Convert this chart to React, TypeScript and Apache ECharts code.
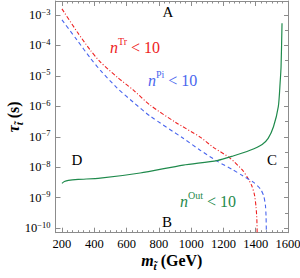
import React, { useEffect, useRef } from "react";
import * as echarts from "echarts";

// ---- data (stop mass in GeV, log10 of lifetime in s) ----
const massTr = [200, 295, 375, 437, 542, 641, 746, 902, 1056, 1136, 1241, 1322, 1350, 1375, 1392, 1402, 1407, 1409];
const logTauTr = [-2.8, -3.56, -4.15, -4.54, -5.04, -5.46, -5.96, -6.52, -7.01, -7.34, -7.7, -8.12, -8.35, -8.6, -8.9, -9.3, -9.7, -10.15];

const massPi = [200, 293, 375, 437, 542, 641, 746, 951, 1056, 1161, 1260, 1320, 1385, 1430, 1450, 1460, 1464, 1466];
const logTauPi = [-3.16, -3.82, -4.41, -4.81, -5.4, -5.86, -6.32, -7.05, -7.44, -7.8, -8.09, -8.28, -8.49, -8.72, -8.95, -9.25, -9.6, -10.15];

const massOut = [200, 215, 240, 300, 437, 684, 951, 1161, 1260, 1365, 1440, 1477, 1510, 1540, 1551, 1557, 1563];
const logTauOut = [-8.53, -8.47, -8.43, -8.4, -8.36, -8.19, -7.93, -7.78, -7.63, -7.44, -7.25, -7.05, -6.67, -6.01, -5.24, -4.7, -3.27];

const xMajorTicks = [200, 400, 600, 800, 1000, 1200, 1400, 1600];
const xMinorTicks: number[] = [];
for (let i = 0; i < 7; i++) for (let j = 1; j < 6; j++) xMinorTicks.push(200 + i * 200 + (j * 200) / 6);
const yMajorTicks = [-10, -9, -8, -7, -6, -5, -4, -3];
const yMinorTicks = [-9.5, -8.5, -7.5, -6.5, -5.5, -4.5, -3.5];

const FONT = "Liberation Serif";
const AXIS_COLOR = "#8c8c8c";
const RED = "#ee2222";
const BLUE = "#4a66ee";
const GREEN = "#1f8a4c";

const X_MIN = 160;
const X_MAX = 1600;
const Y_MIN = -10.15;
const Y_MAX = -2.54;

function zip(xs: number[], ys: number[]) {
  return xs.map((x, i) => [x, ys[i]]);
}

function xAx(position: string, ticks: number[], len: number, extra: any = {}) {
  return {
    type: "value",
    min: X_MIN,
    max: X_MAX,
    position,
    gridIndex: 0,
    axisLine: { show: true, lineStyle: { color: AXIS_COLOR, width: 1 } },
    axisTick: { show: true, inside: true, length: len, customValues: ticks, lineStyle: { color: AXIS_COLOR } },
    axisLabel: { show: false },
    splitLine: { show: false },
    ...extra,
  };
}
function yAx(position: string, ticks: number[], len: number, extra: any = {}) {
  return {
    type: "value",
    min: Y_MIN,
    max: Y_MAX,
    position,
    gridIndex: 0,
    axisLine: { show: true, lineStyle: { color: AXIS_COLOR, width: 1 } },
    axisTick: { show: true, inside: true, length: len, customValues: ticks, lineStyle: { color: AXIS_COLOR } },
    axisLabel: { show: false },
    splitLine: { show: false },
    ...extra,
  };
}

function supText(base: string, sup: string, tail: string, color: string, x: number, y: number) {
  return {
    type: "text",
    x,
    y,
    style: {
      text: `{n|${base}}{s|${sup}}{b|${tail}}`,
      align: "left",
      verticalAlign: "middle",
      fill: color,
      rich: {
        n: { fontFamily: FONT, fontStyle: "italic", fontSize: 16, lineHeight: 22, fill: color },
        s: { fontFamily: FONT, fontSize: 10, lineHeight: 22, verticalAlign: "top", fill: color },
        b: { fontFamily: FONT, fontSize: 16, lineHeight: 22, fill: color },
      },
    },
  };
}
function letter(t: string, x: number, y: number) {
  return {
    type: "text",
    x,
    y,
    style: { text: t, fontFamily: FONT, fontSize: 15, fill: "#000", align: "center", verticalAlign: "middle" },
  };
}

export default function App() {
  const ref = useRef<HTMLDivElement>(null);
  useEffect(() => {
    if (!ref.current) return;
    const chart = echarts.init(ref.current, null, { renderer: "svg" });
    chart.setOption({
      animation: false,
      backgroundColor: "#fff",
      grid: { left: 55.5, right: 12, top: 1, bottom: 45.3, containLabel: false, outerBoundsMode: "none" },
      xAxis: [
        xAx("bottom", xMajorTicks, 5, {
          axisLabel: {
            show: true,
            customValues: xMajorTicks,
            formatter: (v: number) => String(Math.round(v)),
            fontFamily: FONT,
            fontSize: 12.5,
            color: "#000",
            margin: 5,
          },
          name: "{m|m}{s|t̃}{b| (GeV)}",
          nameLocation: "middle",
          nameGap: 17,
          nameMoveOverlap: false,
          nameTextStyle: {
            rich: {
              m: { fontFamily: FONT, fontStyle: "italic", fontWeight: "bold", fontSize: 16, lineHeight: 22, color: "#000" },
              s: { fontFamily: FONT, fontStyle: "italic", fontWeight: "bold", fontSize: 11, lineHeight: 22, verticalAlign: "bottom", color: "#000" },
              b: { fontFamily: FONT, fontWeight: "bold", fontSize: 16, lineHeight: 22, color: "#000" },
            },
          },
        }),
        xAx("bottom", xMinorTicks, 2.5, { axisLine: { show: false } }),
        xAx("top", xMajorTicks, 5),
        xAx("top", xMinorTicks, 2.5, { axisLine: { show: false } }),
      ],
      yAxis: [
        yAx("left", yMajorTicks, 5, {
          axisLabel: {
            show: true,
            customValues: yMajorTicks,
            margin: 5,
            formatter: (v: number) => `{b|10}{s|−${Math.round(-v)}}`,
            rich: {
              b: { fontFamily: FONT, fontSize: 12.5, lineHeight: 16, color: "#000" },
              s: { fontFamily: FONT, fontSize: 8.5, lineHeight: 16, verticalAlign: "top", color: "#000" },
            },
          },
          name: "{t|τ}{s|t̃}{b| (s)}",
          nameLocation: "middle",
          nameGap: 31,
          nameRotate: 90,
          nameMoveOverlap: false,
          nameTextStyle: {
            rich: {
              t: { fontFamily: FONT, fontStyle: "italic", fontWeight: "bold", fontSize: 16, lineHeight: 22, color: "#000" },
              s: { fontFamily: FONT, fontStyle: "italic", fontWeight: "bold", fontSize: 11, lineHeight: 22, verticalAlign: "bottom", color: "#000" },
              b: { fontFamily: FONT, fontWeight: "bold", fontSize: 16, lineHeight: 22, color: "#000" },
            },
          },
        }),
        yAx("right", yMajorTicks, 4),
        yAx("right", yMinorTicks, 3, { axisLine: { show: false } }),
      ],
      series: [
        {
          type: "line",
          name: "Tr",
          data: zip(massTr, logTauTr),
          showSymbol: false,
          smooth: 0.25,
          lineStyle: { color: RED, width: 1.1, type: [4, 2, 1, 2] },
          silent: true,
        },
        {
          type: "line",
          name: "Pi",
          data: zip(massPi, logTauPi),
          showSymbol: false,
          smooth: 0.25,
          lineStyle: { color: BLUE, width: 1.1, type: [4, 3] },
          silent: true,
        },
        {
          type: "line",
          name: "Out",
          data: zip(massOut, logTauOut),
          showSymbol: false,
          smooth: 0.25,
          lineStyle: { color: GREEN, width: 1.2, type: "solid" },
          silent: true,
        },
      ],
      graphic: [
        letter("A", 168, 12),
        letter("B", 167, 222),
        letter("C", 272, 160),
        letter("D", 77, 160),
        supText("n", "Tr", " < 10", RED, 110, 47),
        supText("n", "Pi", " < 10", BLUE, 148, 80),
        supText("n", "Out", " < 10", GREEN, 180, 201),
      ],
    });
    return () => chart.dispose();
  }, []);
  return <div ref={ref} style={{ position: "absolute", left: 0, top: 0, width: 300, height: 278 }} />;
}
